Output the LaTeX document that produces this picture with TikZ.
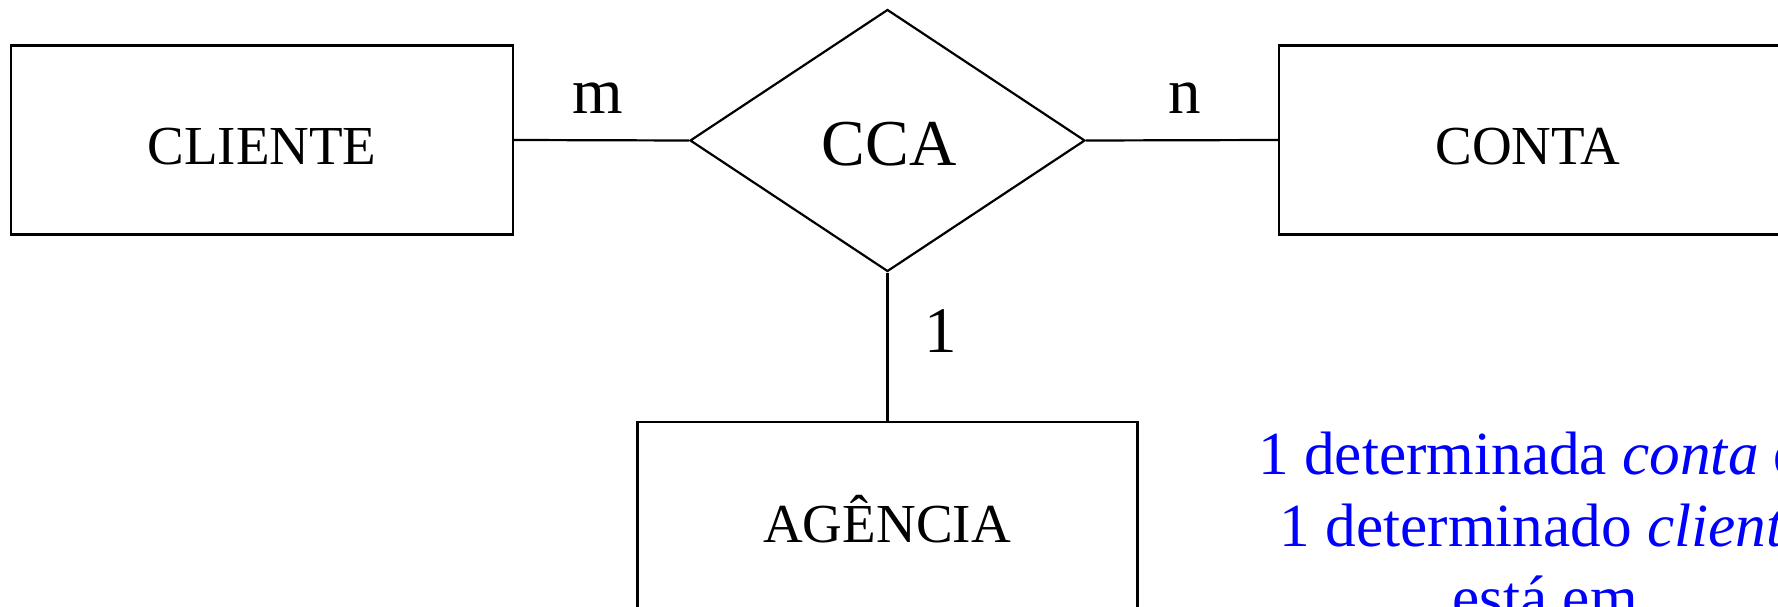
\documentclass[tikz,border=0pt]{standalone}
\usepackage{fontspec}
\setmainfont{Liberation Serif}
\usetikzlibrary{shapes.geometric}
\definecolor{noteblue}{RGB}{0,0,255}
\begin{document}
\begin{tikzpicture}[x=1pt,y=-1pt,
  entity/.style={draw, line width=2.4pt, inner sep=0pt, minimum height=189pt, minimum width=#1},
  relation/.style={draw, diamond, line width=2.2pt, inner sep=0pt, minimum width=395pt, minimum height=262pt},
  link/.style={line width=2.2pt},
  entname/.style={anchor=base, inner sep=0pt, font=\fontsize{55}{60}\selectfont},
  relname/.style={anchor=base, inner sep=0pt, font=\fontsize{65.5}{72}\selectfont},
  card/.style={anchor=base, inner sep=0pt, font=\fontsize{65}{72}\selectfont},
  note/.style={anchor=base, inner sep=0pt, text=noteblue, font=\rmfamily\fontsize{61.3}{72}\selectfont}
]
\useasboundingbox (0,0) rectangle (1778,607);
\clip (0,0) rectangle (1778,607);

% entities
\node[entity=502pt] (cliente) at (262,140) {};
\node[entity=503pt] (conta) at (1530.5,140) {};
\node[entity=500pt] (agencia) at (887.5,516.5) {};
\node[entname] (tcliente) at (262,164.5) {CLIENTE};
\node[entname] (tconta) at (1528,164.5) {CONTA};
\node[entname] (tagencia) at (887,542) {AGÊNCIA};

% relationship
\node[relation] (cca) at (887.5,140.5) {};
\node[relname] (tcca) at (889,165) {CCA};

% connectors
\draw[link] (cliente.east) -- (cca.west);
\draw[link] (cca.east) -- (conta.west);
\draw[link] (cca.south) -- (agencia.north);

% cardinalities
\node[card] (cm) at (598,114) {m};
\node[card] (cn) at (1185,114) {n};
\node[card] (c1) at (941,352) {1};

% explanatory note, one centred line per node
\node[note] (nota1) at (1545,474) {1 determinada \textit{conta} de};
\node[note] (nota2) at (1545,546) {1 determinado \textit{cliente}};
\node[note] (nota3) at (1545,618) {está em};
\end{tikzpicture}
\end{document}
